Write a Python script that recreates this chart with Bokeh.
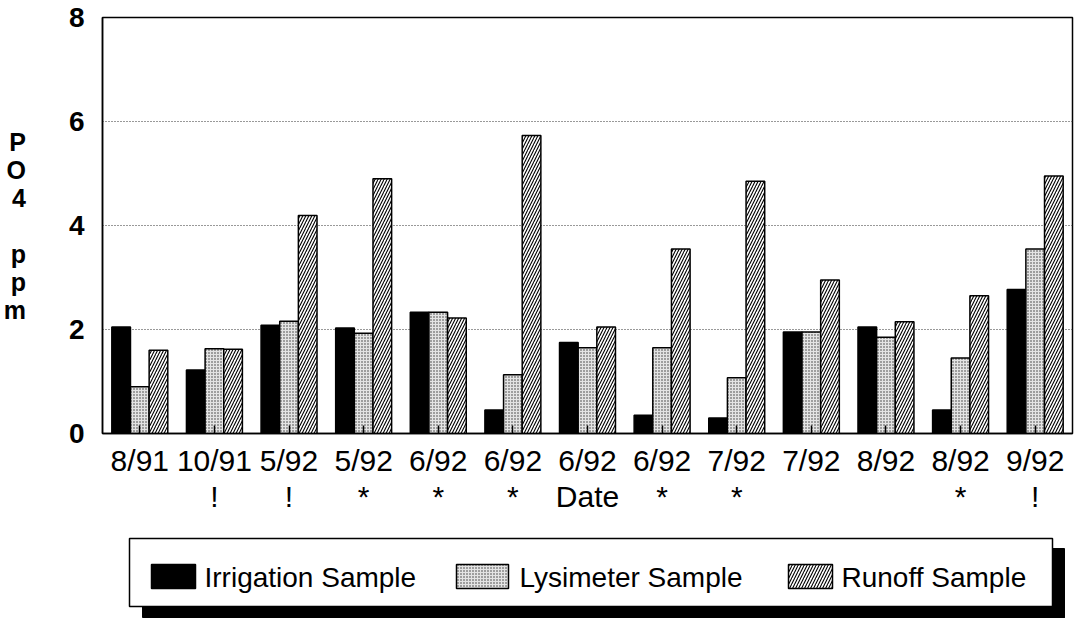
from bokeh.plotting import figure
from bokeh.models import Range1d, FixedTicker, LinearAxis, ColumnDataSource
from bokeh.layouts import column
from bokeh.embed import file_html
from bokeh.resources import INLINE
from bokeh.core.properties import value
from bokeh.transform import dodge

# ---------------- data ----------------
dates = ["8/91", "10/91", "5/92", "5/92", "6/92", "6/92", "6/92",
         "6/92", "7/92", "7/92", "8/92", "8/92", "9/92"]
marks = ["", "!", "!", "*", "*", "*", "Date", "*", "*", "", "", "*", "!"]
irrigation = [2.05, 1.22, 2.08, 2.03, 2.33, 0.45, 1.75, 0.35, 0.30, 1.95, 2.05, 0.45, 2.77]
lysimeter = [0.90, 1.63, 2.16, 1.93, 2.33, 1.13, 1.65, 1.65, 1.07, 1.95, 1.85, 1.45, 3.55]
runoff = [1.60, 1.62, 4.19, 4.90, 2.22, 5.73, 2.05, 3.55, 4.85, 2.95, 2.15, 2.65, 4.95]
series_names = ["Irrigation Sample", "Lysimeter Sample", "Runoff Sample"]
y_ticks = [0, 2, 4, 6, 8]
y_label = "P\nO\n4\n\np\np\nm"

FONT = "Liberation Sans"
xs = list(range(1, len(dates) + 1))
src = ColumnDataSource(dict(x=xs, irr=irrigation, lys=lysimeter, run=runoff))

styles = [
    dict(fill_color="black", line_color="black", line_width=1.5),
    dict(fill_color="#e4e4e4", line_color="black", line_width=1.5,
         hatch_pattern="dot", hatch_color="#333333", hatch_scale=3, hatch_weight=1),
    dict(fill_color="white", line_color="black", line_width=1.5,
         hatch_pattern="right_diagonal_line", hatch_color="black", hatch_scale=6, hatch_weight=1.1),
]

LEFT, RIGHT, TOP, BOTTOM = 100, 4, 17, 97
FW, FH = 970, 416
LEG_H = 88
TOTAL_MAIN = TOP + FH + BOTTOM  # 530

p = figure(frame_width=FW, frame_height=FH,
           x_range=Range1d(0.5, len(dates) + 0.5), y_range=Range1d(0, 8),
           output_backend="svg", toolbar_location=None,
           min_border_left=LEFT, min_border_right=RIGHT, min_border_top=TOP,
           min_border_bottom=BOTTOM,
           background_fill_color="white", border_fill_color="white")
p.outline_line_color = "black"
p.outline_line_width = 1.5

offsets = [-0.25, 0.0, 0.25]
cols = ["irr", "lys", "run"]
for off, col, st in zip(offsets, cols, styles):
    p.vbar(x=dodge("x", off), top=col, width=0.25, source=src, **st)

# y axis
p.yaxis.ticker = FixedTicker(ticks=y_ticks)
p.yaxis.major_tick_line_color = None
p.yaxis.minor_tick_line_color = None
p.yaxis.axis_line_color = "black"
p.yaxis.axis_line_width = 1.5
p.yaxis.major_label_text_font = FONT
p.yaxis.major_label_text_font_size = "28px"
p.yaxis.major_label_text_font_style = "bold"
p.yaxis.major_label_text_color = "black"
p.yaxis.major_label_standoff = 12
p.yaxis.axis_label = y_label
p.yaxis.axis_label_orientation = "horizontal"
p.yaxis.axis_label_text_font = FONT
p.yaxis.axis_label_text_font_size = "25px"
p.yaxis.axis_label_text_font_style = "bold"
p.yaxis.axis_label_text_color = "black"
p.yaxis.axis_label_text_line_height = 1.0
p.yaxis.axis_label_standoff = 40

p.ygrid.ticker = FixedTicker(ticks=y_ticks)
p.ygrid.grid_line_color = "#333333"
p.ygrid.grid_line_dash = "1 2"
p.ygrid.grid_line_width = 1
p.xgrid.grid_line_color = None

# x axis (dates)
p.xaxis.ticker = FixedTicker(ticks=xs)
p.xaxis.major_label_overrides = {i: d for i, d in zip(xs, dates)}
p.xaxis.major_tick_in = 8
p.xaxis.major_tick_out = 0
p.xaxis.major_tick_line_width = 1.5
p.xaxis.minor_tick_line_color = None
p.xaxis.axis_line_width = 1.5
p.xaxis.major_label_text_font = FONT
p.xaxis.major_label_text_font_size = "30px"
p.xaxis.major_label_text_color = "black"
p.xaxis.major_label_standoff = 10

# second row: markers and "Date"
ax2 = LinearAxis(ticker=FixedTicker(ticks=xs),
                 major_label_overrides={i: m for i, m in zip(xs, marks)},
                 axis_line_color=None, major_tick_line_color=None,
                 minor_tick_line_color=None,
                 major_label_text_font=FONT,
                 major_label_text_font_size="30px",
                 major_label_text_color="black",
                 major_label_standoff=-6)
p.add_layout(ax2, "below")

# ---------------- legend panel (coordinates = page pixels) ----------------
lg = figure(frame_width=FW, frame_height=LEG_H,
            x_range=Range1d(LEFT, LEFT + FW),
            y_range=Range1d(TOTAL_MAIN + LEG_H, TOTAL_MAIN),
            output_backend="svg", toolbar_location=None,
            min_border_left=LEFT, min_border_right=RIGHT,
            min_border_top=0, min_border_bottom=0,
            background_fill_color="white", border_fill_color="white")
lg.axis.visible = False
lg.grid.visible = False
lg.outline_line_color = None

# shadow
lg.quad(left=[140, 1050], right=[1062, 1062], top=[606, 548], bottom=[617, 617],
        fill_color="black", line_color="black")
# box
lg.quad(left=[127], right=[1050], top=[538], bottom=[606],
        fill_color="white", line_color="black", line_width=1.5)

sw_left = [149, 454, 786]
sw_right = [193, 506, 830]
txt_x = [202, 517, 839]
for l, r, tx, st, name in zip(sw_left, sw_right, txt_x, styles, series_names):
    lg.quad(left=[l], right=[r], top=[564], bottom=[588], **st)
    lg.text(x=[tx], y=[577], text=[name], text_font=value(FONT),
            text_font_size="28px", text_baseline="middle", text_align="left",
            text_color="black")

layout = column(p, lg, spacing=0)
open("out.html", "w").write(file_html(layout, INLINE))
